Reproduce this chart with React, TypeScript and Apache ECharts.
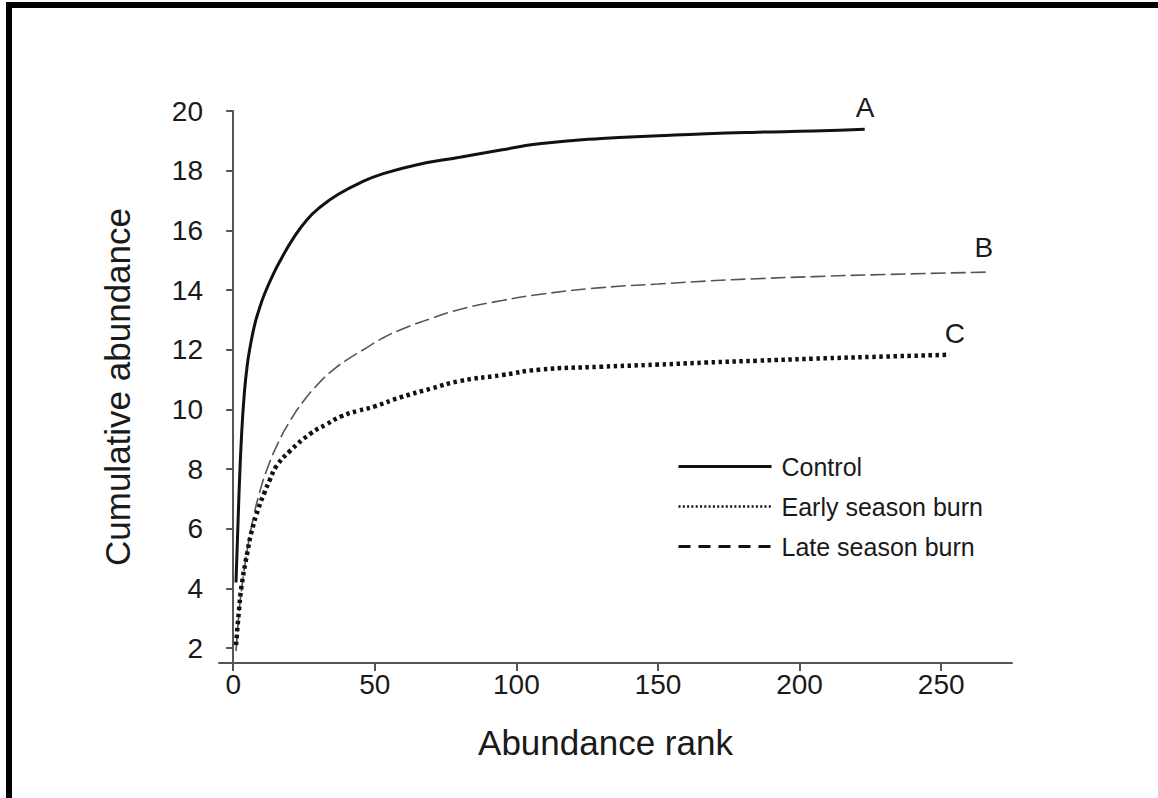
import React, { useEffect, useRef } from "react";
import * as echarts from "echarts";

const FONT = "'Liberation Sans', Arial, Helvetica, sans-serif";

const xTicks = [0, 50, 100, 150, 200, 250];
const yTicks = [2, 4, 6, 8, 10, 12, 14, 16, 18, 20];

const controlRank = [1, 2, 3, 4, 5, 6, 7.5, 9, 11, 14, 17, 21, 26, 31, 37, 45, 53, 65, 80, 95, 108, 130, 150, 167, 185, 205, 223];
const controlValue = [4.2, 7.0, 9.2, 10.6, 11.5, 12.1, 12.8, 13.3, 13.85, 14.5, 15.05, 15.7, 16.35, 16.8, 17.2, 17.6, 17.9, 18.2, 18.45, 18.7, 18.9, 19.08, 19.17, 19.24, 19.29, 19.33, 19.39];

const earlyRank = [1, 2, 3, 5, 6.5, 9, 11, 13, 15.3, 20, 27.5, 33, 38, 44, 50, 59, 70, 80, 95, 108, 130, 150, 167, 185, 205, 230, 253];
const earlyValue = [2.1, 3.2, 4.1, 5.2, 5.9, 6.7, 7.2, 7.65, 8.1, 8.6, 9.2, 9.5, 9.76, 9.95, 10.1, 10.4, 10.7, 10.95, 11.15, 11.33, 11.43, 11.5, 11.57, 11.63, 11.7, 11.77, 11.83];

const lateRank = [1, 2, 3, 5, 7, 9, 12, 16, 20, 25, 30, 35, 40, 46, 53, 60, 70, 80, 95, 108, 130, 150, 167, 185, 205, 230, 266];
const lateValue = [1.9, 3.1, 4.0, 5.3, 6.3, 7.1, 8.0, 8.9, 9.6, 10.3, 10.85, 11.3, 11.65, 12.0, 12.4, 12.7, 13.05, 13.35, 13.65, 13.85, 14.08, 14.2, 14.3, 14.38, 14.45, 14.52, 14.6];

const seriesNames = ["Control", "Early season burn", "Late season burn"];
const curveLetters = ["A", "C", "B"];

const pairs = (xs: number[], ys: number[]) => xs.map((x, i) => [x, ys[i]]);

export default function App() {
  const ref = useRef<HTMLDivElement>(null);
  useEffect(() => {
    if (!ref.current) return;
    const chart = echarts.init(ref.current, null, { renderer: "svg" });
    const textColor = "#1a1a1a";
    const axisColor = "#555";
    const labelFont = { fontFamily: FONT, fontSize: 28, color: textColor };
    const hiddenSymbol = { color: "rgba(0,0,0,0)", borderWidth: 0, opacity: 0 };
    chart.setOption({
      animation: false,
      backgroundColor: "#fff",
      grid: { left: 219, right: 146, top: 111, bottom: 135, containLabel: false },
      xAxis: {
        type: "value",
        min: -5,
        max: 275,
        name: "Abundance rank",
        nameLocation: "middle",
        nameGap: 62,
        nameTextStyle: { fontFamily: FONT, fontSize: 35, color: textColor, padding: [0, 20, 0, 0] },
        axisLine: { show: true, lineStyle: { color: axisColor, width: 2 } },
        axisTick: { show: true, length: 8, customValues: xTicks, lineStyle: { color: axisColor, width: 2 } },
        axisLabel: { ...labelFont, margin: 7, customValues: xTicks },
        splitLine: { show: false },
      },
      yAxis: {
        type: "value",
        min: 1.5,
        max: 20,
        name: "Cumulative abundance",
        nameLocation: "middle",
        nameGap: 84,
        nameTextStyle: { fontFamily: FONT, fontSize: 35, color: textColor },
        axisLine: { show: true, lineStyle: { color: axisColor, width: 2 } },
        axisTick: { show: true, length: 7, customValues: yTicks, lineStyle: { color: axisColor, width: 2 } },
        axisLabel: { ...labelFont, margin: 16, customValues: yTicks },
        splitLine: { show: false },
      },
      legend: {
        show: true,
        orient: "vertical",
        left: 677,
        top: 454,
        padding: 0,
        itemWidth: 93,
        itemHeight: 20,
        itemGap: 15,
        itemStyle: hiddenSymbol,
        textStyle: { fontFamily: FONT, fontSize: 25, color: textColor, padding: [0, 0, 0, 5] },
        data: [
          { name: seriesNames[0], itemStyle: hiddenSymbol, lineStyle: { color: "#111", width: 3, type: "solid" } },
          { name: seriesNames[1], itemStyle: hiddenSymbol, lineStyle: { color: "#111", width: 2.5, type: [2, 2.3] } },
          { name: seriesNames[2], itemStyle: hiddenSymbol, lineStyle: { color: "#111", width: 3, type: [12, 8] } },
        ],
      },
      graphic: [
        { type: "rect", shape: { x: 6, y: 2, width: 1152, height: 6 }, style: { fill: "#000" }, silent: true },
        { type: "rect", shape: { x: 6, y: 2, width: 6, height: 796 }, style: { fill: "#000" }, silent: true },
      ],
      series: [
        {
          name: seriesNames[0],
          type: "line",
          data: pairs(controlRank, controlValue),
          showSymbol: false,
          symbol: "none",
          smooth: 0.5,
          lineStyle: { color: "#111", width: 3, type: "solid" },
          itemStyle: { color: "#111" },
          endLabel: { show: true, formatter: curveLetters[0], distance: 0, offset: [-9, -22], ...labelFont },
          z: 3,
        },
        {
          name: seriesNames[1],
          type: "line",
          data: pairs(earlyRank, earlyValue),
          showSymbol: false,
          symbol: "none",
          smooth: 0.5,
          lineStyle: { color: "#111", width: 4.5, type: [3.5, 3.5], cap: "butt" },
          itemStyle: { color: "#111" },
          endLabel: { show: true, formatter: curveLetters[1], distance: 0, offset: [-5, -21], ...labelFont },
          z: 2,
        },
        {
          name: seriesNames[2],
          type: "line",
          data: pairs(lateRank, lateValue),
          showSymbol: false,
          symbol: "none",
          smooth: 0.5,
          lineStyle: { color: "#555", width: 1.6, type: [15, 5] },
          itemStyle: { color: "#555" },
          endLabel: { show: true, formatter: curveLetters[2], distance: 0, offset: [-12, -25], ...labelFont },
          z: 1,
        },
      ],
    });
    return () => chart.dispose();
  }, []);
  return (
    <div
      ref={ref}
      style={{ position: "fixed", left: 0, top: 0, width: 1158, height: 798, background: "#fff" }}
    />
  );
}
